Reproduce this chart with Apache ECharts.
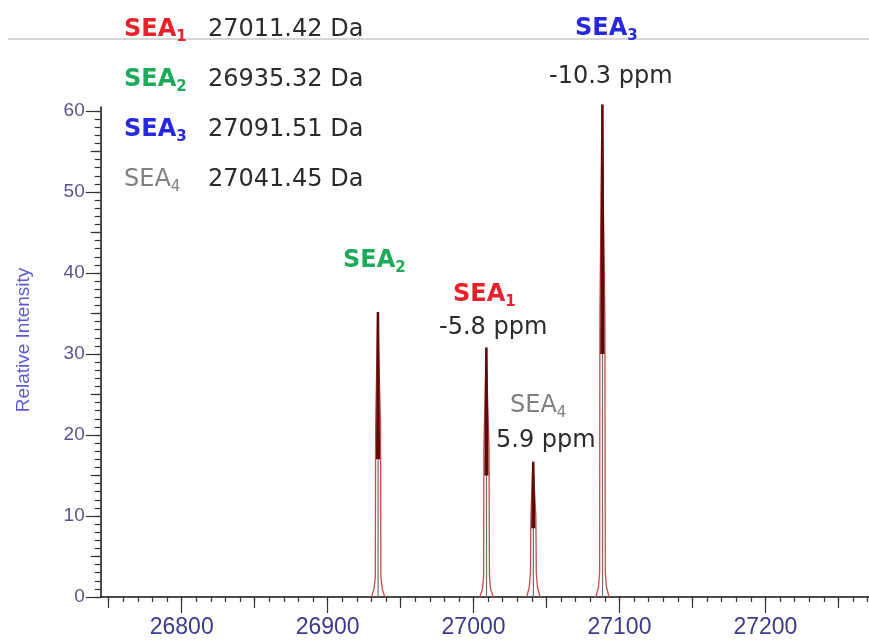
<!DOCTYPE html>
<html>
<head>
<meta charset="utf-8">
<script src="https://cdn.jsdelivr.net/npm/echarts@6/dist/echarts.min.js"></script>
<style>
  html, body { margin: 0; padding: 0; background: #fff; }
  #main { width: 869px; height: 641px; }
</style>
</head>
<body>
<div id="main"></div>
<script>
// deconvoluted mass peaks, [mass (Da), relative intensity]
const sea2Profile = [[26930.0, 0], [26931.8, 1.0], [26932.7, 2.5], [26932.9, 21], [26934.3, 35.2], [26934.9, 35.2], [26936.3, 21], [26936.5, 2.5], [26937.4, 1.0], [26939.2, 0]];
const sea1Profile = [[27004.3, 0], [27006.1, 1.0], [27006.9, 2.5], [27007.1, 18.5], [27008.6, 30.8], [27009.2, 30.8], [27010.6, 18.5], [27010.9, 2.5], [27011.7, 1.0], [27013.5, 0]];
const sea4Profile = [[27036.4, 0], [27038.2, 1.2], [27039.0, 3.0], [27039.3, 10], [27040.7, 16.7], [27041.3, 16.7], [27042.7, 10], [27043.0, 3.0], [27043.8, 1.2], [27045.6, 0]];
const sea3Profile = [[27083.8, 0], [27085.6, 1.2], [27086.4, 3.0], [27086.6, 35], [27088.0, 60.8], [27088.6, 60.8], [27090.0, 35], [27090.3, 3.0], [27091.1, 1.2], [27092.9, 0]];

const sea2Core = [[26934.0, 17], [26934.5, 35.2], [26935.1, 17]];
const sea1Core = [[27008.3, 15], [27008.8, 30.8], [27009.4, 15]];
const sea4Core = [[27040.4, 8.5], [27040.9, 16.7], [27041.5, 8.5]];
const sea3Core = [[27087.7, 30], [27088.3, 60.8], [27088.9, 30]];

const sea2Stick = [[26934.6, 0], [26934.6, 20]];
const sea1Stick = [[27008.9, 0], [27008.9, 18]];
const sea4Stick = [[27041.0, 0], [27041.0, 10]];
const sea3Stick = [[27088.4, 0], [27088.4, 32]];

// legend block: name, subscript, mass
const legendNames = ['SEA', 'SEA', 'SEA', 'SEA'];
const legendSubs = ['1', '2', '3', '4'];
const legendMasses = ['27011.42 Da', '26935.32 Da', '27091.51 Da', '27041.45 Da'];

// ppm errors
const ppmLabels = ['-5.8 ppm', '5.9 ppm', '-10.3 ppm'];

// axis ticks
const xLabelTicks = [26800, 26900, 27000, 27100, 27200];
const xMidTicks = [26750, 26850, 26950, 27050, 27150, 27250];
const yLabelTicks = [0, 10, 20, 30, 40, 50, 60];
const yMidTicks = [5, 15, 25, 35, 45, 55];

const xMinorTicks = [];
for (let v = 26750; v <= 27270; v += 10) xMinorTicks.push(v);
const yMinorTicks = [];
for (let v = 0; v <= 60; v += 1) yMinorTicks.push(v);

const RED = '#e8212b', GREEN = '#1eaa5a', BLUE = '#2828e0', GREY = '#808080';
const TXT = '#2b2b2b';
const XMIN = 26744.5, XMAX = 27271, YMAX = 60.5;
const GRID = { left: 100.7, right: 0, top: 107, bottom: 44 };

function xAxisDef(grid, ticks, len, withLabel) {
  return {
    type: 'value', gridIndex: grid, position: 'bottom', min: XMIN, max: XMAX,
    axisLine: { show: withLabel, lineStyle: { color: '#111', width: 1.5 } },
    axisTick: { show: true, inside: false, length: len, customValues: ticks, lineStyle: { color: '#333', width: 1.2 } },
    axisLabel: {
      show: withLabel, customValues: ticks, margin: 19,
      formatter: v => String(v),
      color: '#3b3b8e', fontSize: 23, fontFamily: 'Liberation Sans'
    },
    splitLine: { show: false }
  };
}

function yAxisDef(grid, ticks, len, withLabel) {
  return {
    type: 'value', gridIndex: grid, position: 'left', min: 0, max: YMAX,
    axisLine: { show: withLabel, lineStyle: { color: '#111', width: 1.5 } },
    axisTick: { show: true, inside: false, length: len, customValues: ticks, lineStyle: { color: '#333', width: 1.2 } },
    axisLabel: {
      show: withLabel, customValues: ticks, margin: 16,
      formatter: v => String(v),
      color: '#55558f', fontSize: 19, fontFamily: 'Liberation Sans'
    },
    splitLine: { show: false }
  };
}

function seaRich(color, bold) {
  return {
    b: { fill: color, fontSize: 24, fontWeight: bold ? 'bold' : 'normal', fontFamily: 'DejaVu Sans', lineHeight: 30 },
    s: { fill: color, fontSize: 15, fontWeight: bold ? 'bold' : 'normal', fontFamily: 'DejaVu Sans', lineHeight: 15, verticalAlign: 'bottom' }
  };
}

function seaText(x, y, name, sub, color, bold) {
  return {
    type: 'text', x: x, y: y, z: 10,
    style: {
      text: '{b|' + name + '}{s|' + sub + '}',
      rich: seaRich(color, bold),
      align: 'left', verticalAlign: 'middle'
    }
  };
}

function plainText(x, y, text, color, size) {
  return {
    type: 'text', x: x, y: y, z: 10,
    style: {
      text: text, fill: color, fontSize: size, fontFamily: 'DejaVu Sans',
      align: 'left', verticalAlign: 'middle'
    }
  };
}

const legendColors = [RED, GREEN, BLUE, GREY];
const legendBold = [true, true, true, false];
const legendRowsY = [30, 80, 130, 180];

const graphics = [
  { type: 'line', z: 1, shape: { x1: 8, y1: 39, x2: 869, y2: 39 }, style: { stroke: '#c8c8c8', lineWidth: 1.5 } },
  {
    type: 'text', x: 24, y: 340, rotation: Math.PI / 2, z: 10,
    style: { text: 'Relative Intensity', fill: '#5a5ad6', fontSize: 19, fontFamily: 'Liberation Sans', align: 'center', verticalAlign: 'middle' }
  }
];
legendRowsY.forEach((y, i) => {
  graphics.push(seaText(124, y, legendNames[i], legendSubs[i], legendColors[i], legendBold[i]));
  graphics.push(plainText(208, y, legendMasses[i], TXT, 24));
});
// peak annotations
graphics.push(seaText(343, 261, 'SEA', '2', GREEN, true));
graphics.push(seaText(453, 295, 'SEA', '1', RED, true));
graphics.push(plainText(439, 328, ppmLabels[0], TXT, 24));
graphics.push(seaText(510, 406, 'SEA', '4', GREY, false));
graphics.push(plainText(496, 441, ppmLabels[1], TXT, 24));
graphics.push(seaText(575, 29, 'SEA', '3', BLUE, true));
graphics.push(plainText(549, 77, ppmLabels[2], TXT, 24));

function lineSeries(data, color, width, z) {
  return {
    type: 'line', data: data, symbol: 'none', clip: false, z: z,
    xAxisIndex: 0, yAxisIndex: 0,
    lineStyle: { color: color, width: width }
  };
}

const profiles = [sea2Profile, sea1Profile, sea4Profile, sea3Profile];
const cores = [sea2Core, sea1Core, sea4Core, sea3Core];
const sticks = [sea2Stick, sea1Stick, sea4Stick, sea3Stick];

const series = [];
profiles.forEach(d => series.push(lineSeries(d, '#c94c4c', 1.3, 2)));
sticks.forEach(d => series.push(lineSeries(d, '#6f6f6f', 1.2, 3)));
cores.forEach(d => series.push(lineSeries(d, '#5e0b0b', 2.5, 4)));

const chart = echarts.init(document.getElementById('main'));
chart.setOption({
  animation: false,
  backgroundColor: '#fff',
  grid: [GRID, GRID, GRID],
  xAxis: [
    xAxisDef(0, xLabelTicks, 16, true),
    xAxisDef(1, xMidTicks, 11, false),
    xAxisDef(2, xMinorTicks, 5, false)
  ],
  yAxis: [
    yAxisDef(0, yLabelTicks, 15, true),
    yAxisDef(1, yMidTicks, 10, false),
    yAxisDef(2, yMinorTicks, 6, false)
  ],
  graphic: graphics,
  series: series
});
</script>
</body>
</html>
